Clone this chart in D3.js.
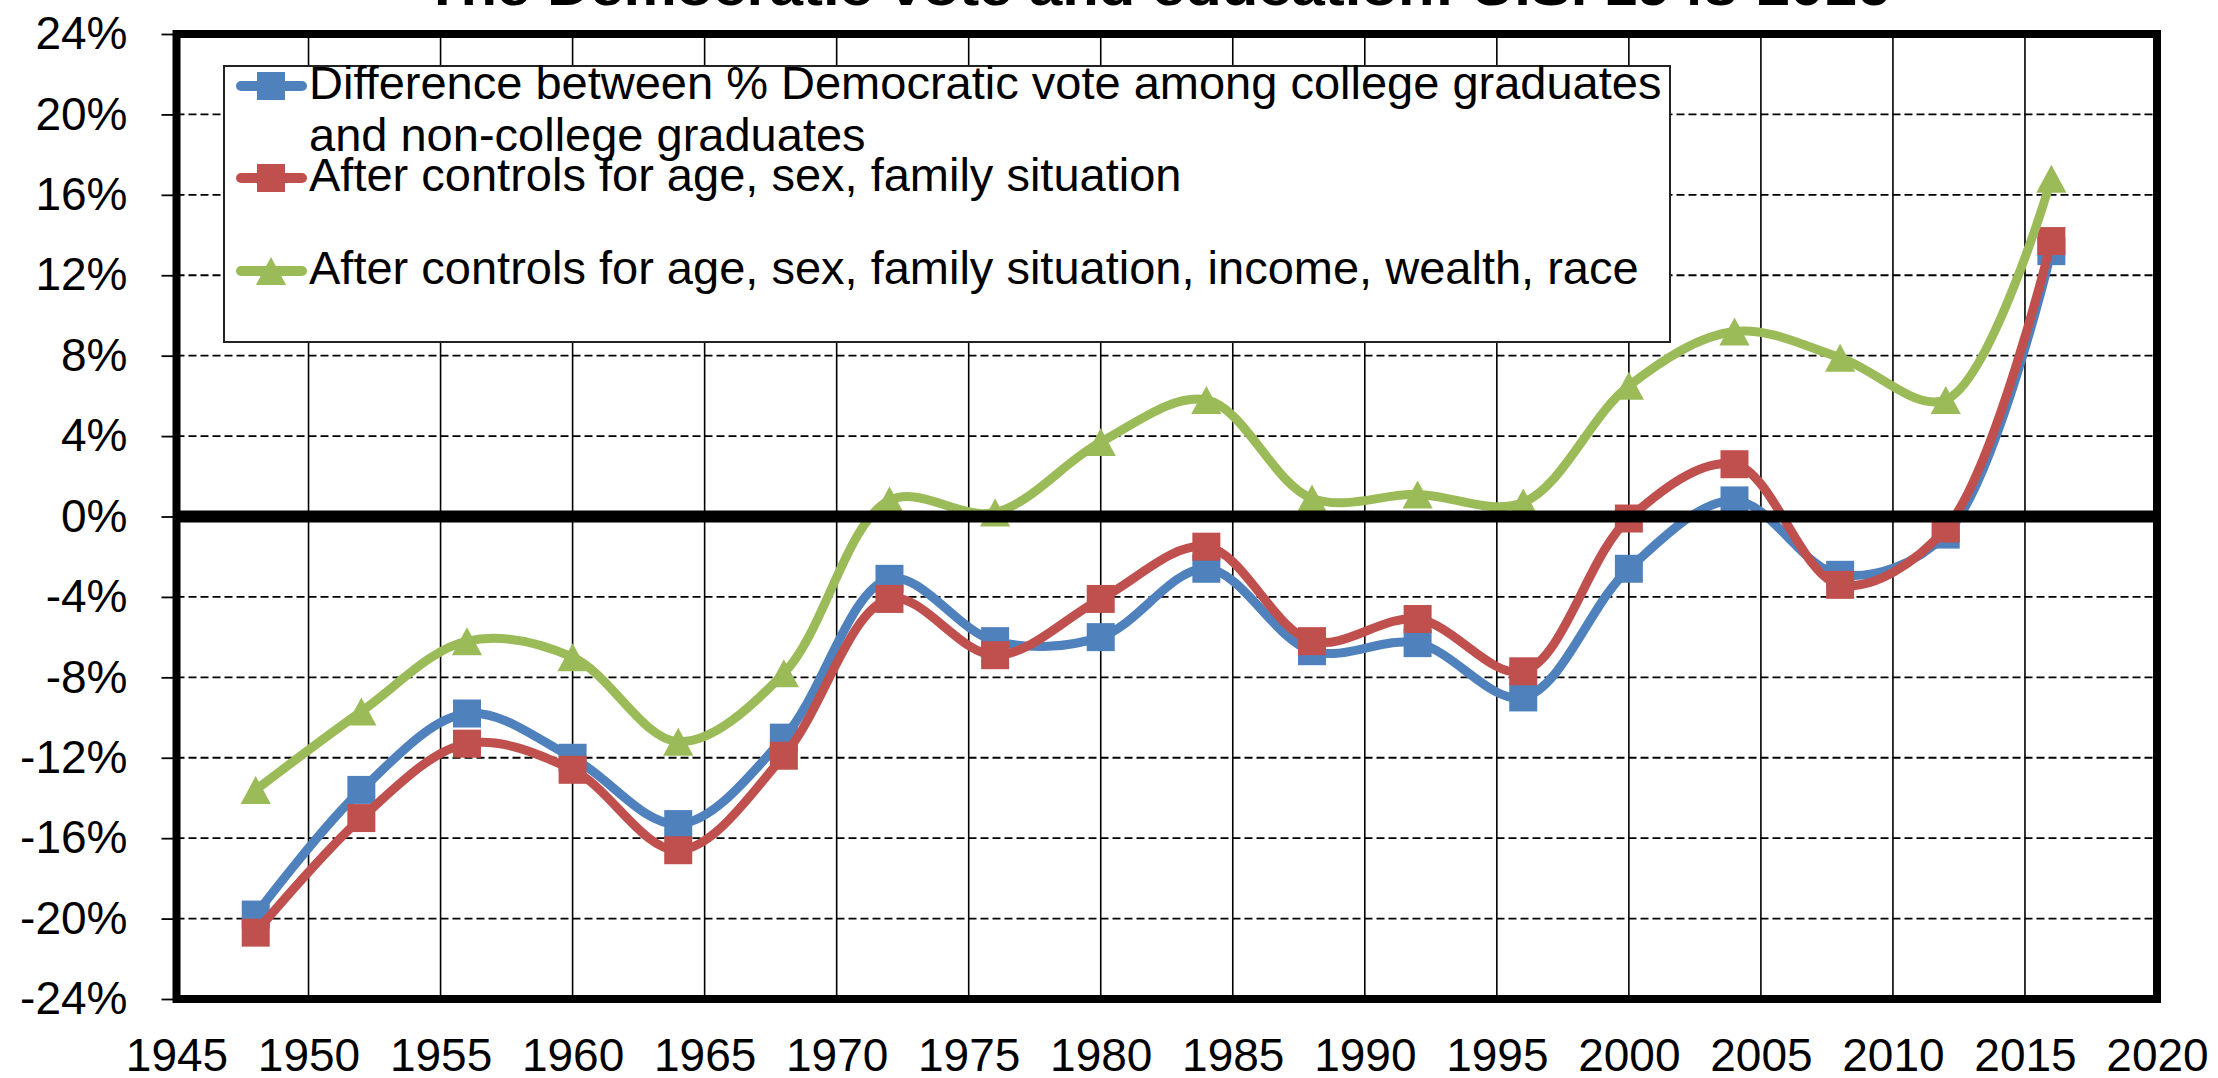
<!DOCTYPE html>
<html>
<head>
<meta charset="utf-8">
<script src="https://cdn.jsdelivr.net/npm/d3@7"></script>
<style>
  body { margin: 0; background: #fff; }
  svg { display: block; font-family: "Liberation Sans", Arial, sans-serif; }
</style>
</head>
<body>
<script>
// Election years and the three college / non-college gaps (in %)
const years = [1948, 1952, 1956, 1960, 1964, 1968, 1972, 1976, 1980, 1984, 1988, 1992, 1996, 2000, 2004, 2008, 2012, 2016]
const rawGap = [-19.8, -13.6, -9.8, -12.0, -15.3, -11.0, -3.1, -6.2, -6.0, -2.6, -6.7, -6.3, -9.0, -2.6, 0.8, -2.9, -0.9, 13.2]
const gapDemo = [-20.7, -15.0, -11.3, -12.6, -16.6, -11.9, -4.1, -6.9, -4.1, -1.5, -6.2, -5.1, -7.7, -0.1, 2.6, -3.4, -0.6, 13.7]
const gapFull = [-13.6, -9.7, -6.2, -7.0, -11.2, -7.8, 0.8, 0.2, 3.7, 5.8, 0.9, 1.1, 0.7, 6.5, 9.2, 7.9, 5.8, 16.8]

const yTicks = [-24, -20, -16, -12, -8, -4, 0, 4, 8, 12, 16, 20, 24]
const xTicks = [1945, 1950, 1955, 1960, 1965, 1970, 1975, 1980, 1985, 1990, 1995, 2000, 2005, 2010, 2015, 2020]

const seriesNames = [
  ["Difference between % Democratic vote among college graduates", "and non-college graduates"],
  ["After controls for age, sex, family situation"],
  ["After controls for age, sex, family situation, income, wealth, race"]
]
const title = "The Democratic vote and education: U.S. 1948-2016"

const w = 2218
const h = 1078
const colors = ["#4f81bd", "#c0504d", "#9bbb59"]
const shapes = ["square", "square", "triangle"]

const plot = {left: 176.5, right: 2157, top: 34, bottom: 999}

const svg = d3.select("body")
              .append("svg")
              .attr("width", w)
              .attr("height", h)

const x = d3.scaleLinear().domain([1945, 2020]).range([plot.left, plot.right])
const y = d3.scaleLinear().domain([-24, 24]).range([plot.bottom, plot.top])

// Title, mostly cut off by the top edge as in the original
svg.append("text")
   .attr("x", 1157)
   .attr("y", 5)
   .attr("text-anchor", "middle")
   .attr("font-weight", "bold")
   .attr("font-size", 52)
   .attr("textLength", 1466)
   .attr("lengthAdjust", "spacingAndGlyphs")
   .text(title)

// Gridlines
svg.append("g")
   .selectAll("line")
   .data(xTicks.slice(1, -1))
   .enter()
   .append("line")
   .attr("x1", d => x(d)).attr("x2", d => x(d))
   .attr("y1", plot.top).attr("y2", plot.bottom)
   .attr("stroke", "#000")
   .attr("stroke-width", 1.6)

svg.append("g")
   .selectAll("line")
   .data(yTicks.filter(d => d !== 0 && Math.abs(d) !== 24))
   .enter()
   .append("line")
   .attr("x1", plot.left).attr("x2", plot.right)
   .attr("y1", d => y(d)).attr("y2", d => y(d))
   .attr("stroke", "#000")
   .attr("stroke-width", 1.8)
   .attr("stroke-dasharray", "8,4")

// Axes
const yAxis = svg.append("g")
   .attr("transform", `translate(${plot.left},0)`)
   .call(d3.axisLeft(y).tickValues(yTicks).tickFormat(d => d + "%").tickSize(15).tickPadding(34))
yAxis.select(".domain").remove()
yAxis.selectAll("line").attr("stroke-width", 1.8)
yAxis.selectAll("text").attr("font-size", 46).attr("fill", "#000")
     .attr("font-family", "'Liberation Sans', Arial, sans-serif")

const xAxis = svg.append("g")
   .attr("transform", `translate(0,${plot.bottom})`)
   .call(d3.axisBottom(x).tickValues(xTicks).tickFormat(d3.format("d")).tickSize(0).tickPadding(39))
xAxis.select(".domain").remove()
xAxis.selectAll("text").attr("font-size", 46).attr("fill", "#000")
     .attr("font-family", "'Liberation Sans', Arial, sans-serif")

// Legend box
const legend = svg.append("g").attr("id", "legend")
legend.append("rect")
      .attr("x", 224).attr("y", 66)
      .attr("width", 1446).attr("height", 276)
      .attr("fill", "#fff")
      .attr("stroke", "#222")
      .attr("stroke-width", 2)

const markerPath = (shape, s) => {
  if (shape === "square") {
    return `M${-s / 2},${-s / 2}h${s}v${s}h${-s}Z`
  }
  return `M0,${-s / 2}L${s * 0.54},${s / 2}L${-s * 0.54},${s / 2}Z`
}

const legendRows = [86, 178, 271]
const legendItems = legend.selectAll("g.item")
      .data(seriesNames)
      .enter()
      .append("g")
      .attr("class", "item")
      .attr("transform", (d, i) => `translate(0,${legendRows[i]})`)

legendItems.append("line")
      .attr("x1", 241).attr("x2", 302)
      .attr("stroke", (d, i) => colors[i])
      .attr("stroke-width", 10)
      .attr("stroke-linecap", "round")
legendItems.append("path")
      .attr("transform", "translate(271,0)")
      .attr("d", (d, i) => markerPath(shapes[i], 28))
      .attr("fill", (d, i) => colors[i])
legendItems.each(function(lines) {
  lines.forEach((t, k) => {
    d3.select(this).append("text")
      .attr("x", 309)
      .attr("y", 13 + k * 52)
      .attr("font-size", 47)
      .text(t)
  })
})

// Series lines and markers
const seriesData = [rawGap, gapDemo, gapFull]
const line = d3.line()
               .x((d, i) => x(years[i]))
               .y(d => y(d))
               .curve(d3.curveCatmullRom.alpha(0.5))

seriesData.forEach((vals, s) => {
  const g = svg.append("g").attr("class", "series")
  g.append("path")
   .attr("d", line(vals))
   .attr("fill", "none")
   .attr("stroke", colors[s])
   .attr("stroke-width", 9)
   .attr("stroke-linejoin", "round")
   .attr("stroke-linecap", "round")
  g.selectAll("path.mark")
   .data(vals)
   .enter()
   .append("path")
   .attr("class", "mark")
   .attr("transform", (d, i) => `translate(${x(years[i])},${y(d)})`)
   .attr("d", markerPath(shapes[s], 28))
   .attr("fill", colors[s])
})

// Zero line, drawn over the series
svg.append("line")
   .attr("x1", plot.left).attr("x2", plot.right)
   .attr("y1", y(0)).attr("y2", y(0))
   .attr("stroke", "#000")
   .attr("stroke-width", 12)

// Plot frame
svg.append("rect")
   .attr("x", plot.left).attr("y", plot.top)
   .attr("width", plot.right - plot.left)
   .attr("height", plot.bottom - plot.top)
   .attr("fill", "none")
   .attr("stroke", "#000")
   .attr("stroke-width", 8)
</script>
</body>
</html>
